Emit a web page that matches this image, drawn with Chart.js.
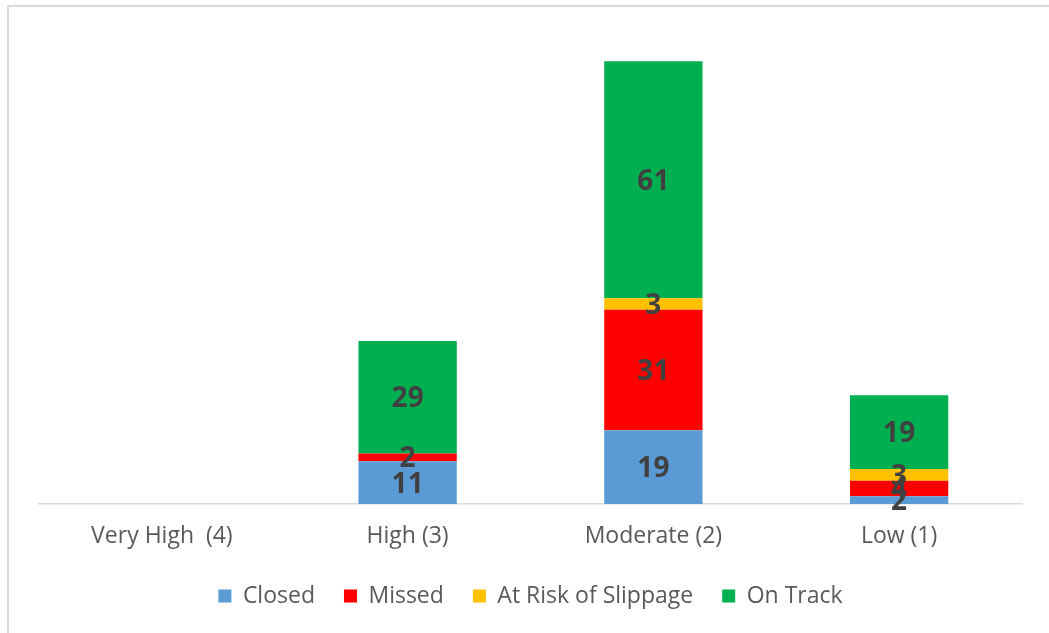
<!DOCTYPE html>
<html>
<head>
<meta charset="utf-8">
<script src="https://cdn.jsdelivr.net/npm/chart.js@4"></script>
<style>
    html, body { margin: 0; padding: 0; background: #fff; }
    #frame {
        position: absolute;
        left: 7px;
        top: 5px;
        width: 1042px;
        height: 628px;
        border-left: 2px solid #d9d9d9;
        border-top: 2px solid #d9d9d9;
    }
    #wrap { position: absolute; left: 0; top: 0; width: 1049px; height: 633px; }
</style>
</head>
<body>
<div id="frame"></div>
<div id="wrap"><canvas id="riskChart"></canvas></div>
<script>
const categories = ["Very High  (4)", "High (3)", "Moderate (2)", "Low (1)"]
const closed = [0, 11, 19, 2]
const missed = [0, 2, 31, 4]
const atRisk = [0, 0, 3, 3]
const onTrack = [0, 29, 61, 19]

const textFont = "'Open Sans', 'Liberation Sans', sans-serif"

// writes the value in the middle of every non-empty segment
const segmentLabels = {
    id: 'segmentLabels',
    afterDatasetsDraw(chart) {
        const ctx = chart.ctx
        ctx.save()
        ctx.font = "bold 28px " + textFont
        ctx.fillStyle = "#404040"
        ctx.textAlign = "center"
        ctx.textBaseline = "middle"
        chart.data.datasets.forEach((ds, i) => {
            chart.getDatasetMeta(i).data.forEach((bar, j) => {
                const v = ds.data[j]
                if (!v) return
                ctx.fillText(String(v), bar.x, (bar.y + bar.base) / 2 + 2)
            })
        })
        ctx.restore()
    }
}

const graphConfig = {
    type: 'bar',
    data: {
        labels: categories,
        datasets: [
            { label: "Closed", data: closed, backgroundColor: "#5b9bd5" },
            { label: "Missed", data: missed, backgroundColor: "#ff0000" },
            { label: "At Risk of Slippage", data: atRisk, backgroundColor: "#ffc000" },
            { label: "On Track", data: onTrack, backgroundColor: "#00b050" },
        ],
    },
    options: {
        responsive: true,
        maintainAspectRatio: false,
        animation: false,
        layout: {
            padding: { left: 39, right: 27, top: 38, bottom: 15.5 }
        },
        datasets: {
            bar: {
                barPercentage: 0.4,
                categoryPercentage: 1.0,
                borderWidth: 0,
            }
        },
        scales: {
            x: {
                stacked: true,
                grid: { display: false, drawTicks: false },
                border: { color: "#d9d9d9", width: 1.5 },
                ticks: {
                    color: "#595959",
                    font: { family: textFont, size: 23 },
                    padding: 19,
                },
                // fixed band under the axis so the legend sits where we want it
                afterFit: (scale) => { scale.height = 51.5 },
            },
            y: {
                stacked: true,
                display: false,
                min: 0,
                max: 120,
            },
        },
        plugins: {
            legend: {
                position: 'bottom',
                labels: {
                    color: "#595959",
                    font: { family: textFont, size: 23 },
                    boxWidth: 13,
                    boxHeight: 13,
                    padding: 29,
                },
            },
            tooltip: { enabled: false },
        },
    },
    plugins: [segmentLabels],
}

const ctx = document.getElementById("riskChart")
const myChart = new Chart(ctx, graphConfig)
</script>
</body>
</html>
